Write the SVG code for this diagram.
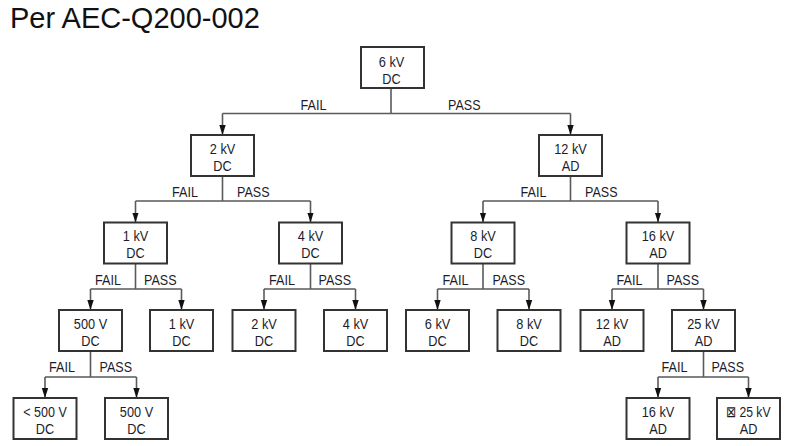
<svg xmlns="http://www.w3.org/2000/svg" width="787" height="446" viewBox="0 0 787 446">
<style>
.bg{fill:#ffffff}
.box{fill:#ffffff;stroke:#333333;stroke-width:2}
.ln{fill:none;stroke:#5a5a5a;stroke-width:1.6}
.t{font-family:"Liberation Sans",Arial,sans-serif;font-size:15px;fill:#1c1c2a;text-anchor:middle}
.lbl{font-family:"Liberation Sans",Arial,sans-serif;font-size:15px;fill:#1c1c2a}
.fail{text-anchor:end}
.pass{text-anchor:start}
.title{font-family:"Liberation Sans",Arial,sans-serif;font-size:29px;fill:#111111}
</style>
<defs>
<marker id="ah" markerUnits="userSpaceOnUse" markerWidth="8" markerHeight="10" viewBox="0 0 8 10" refX="4" refY="10" orient="0">
<path d="M0.8,0 L7.2,0 L4,10 Z" fill="#111111"/>
</marker>
</defs>
<rect class="bg" x="0" y="0" width="787" height="446"/>
<text class="title" x="10" y="28">Per AEC-Q200-002</text>

<g id="connectors">
<path class="ln" d="M391,88 V113.5 M222.5,113.5 H570.5"/>
<path class="ln" marker-end="url(#ah)" d="M222.5,113.5 V135"/>
<path class="ln" marker-end="url(#ah)" d="M570.5,113.5 V135"/>

<path class="ln" d="M222.5,176 V201 M135.5,201 H310.5"/>
<path class="ln" marker-end="url(#ah)" d="M135.5,201 V222.5"/>
<path class="ln" marker-end="url(#ah)" d="M310.5,201 V222.5"/>

<path class="ln" d="M570.5,176 V201 M483,201 H658"/>
<path class="ln" marker-end="url(#ah)" d="M483,201 V222.5"/>
<path class="ln" marker-end="url(#ah)" d="M658,201 V222.5"/>

<path class="ln" d="M135.5,263 V289 M90.5,289 H181.5"/>
<path class="ln" marker-end="url(#ah)" d="M90.5,289 V310"/>
<path class="ln" marker-end="url(#ah)" d="M181.5,289 V310"/>

<path class="ln" d="M310.5,263 V289 M264,289 H355.5"/>
<path class="ln" marker-end="url(#ah)" d="M264,289 V310"/>
<path class="ln" marker-end="url(#ah)" d="M355.5,289 V310"/>

<path class="ln" d="M483,263 V289 M437.5,289 H529"/>
<path class="ln" marker-end="url(#ah)" d="M437.5,289 V310"/>
<path class="ln" marker-end="url(#ah)" d="M529,289 V310"/>

<path class="ln" d="M658,263 V289 M612,289 H703.5"/>
<path class="ln" marker-end="url(#ah)" d="M612,289 V310"/>
<path class="ln" marker-end="url(#ah)" d="M703.5,289 V310"/>

<path class="ln" d="M90.5,351 V377 M45,377 H136.5"/>
<path class="ln" marker-end="url(#ah)" d="M45,377 V398"/>
<path class="ln" marker-end="url(#ah)" d="M136.5,377 V398"/>

<path class="ln" d="M703.5,351 V377 M658,377 H748.5"/>
<path class="ln" marker-end="url(#ah)" d="M658,377 V398"/>
<path class="ln" marker-end="url(#ah)" d="M748.5,377 V398"/>

<text class="lbl fail" x="326.5" y="109.5" textLength="26" lengthAdjust="spacingAndGlyphs">FAIL</text>
<text class="lbl pass" x="448" y="109.5" textLength="32.5" lengthAdjust="spacingAndGlyphs">PASS</text>
<text class="lbl fail" x="198" y="197" textLength="26" lengthAdjust="spacingAndGlyphs">FAIL</text>
<text class="lbl pass" x="237" y="197" textLength="32.5" lengthAdjust="spacingAndGlyphs">PASS</text>
<text class="lbl fail" x="546.5" y="197" textLength="26" lengthAdjust="spacingAndGlyphs">FAIL</text>
<text class="lbl pass" x="585" y="197" textLength="32.5" lengthAdjust="spacingAndGlyphs">PASS</text>
<text class="lbl fail" x="121" y="285" textLength="26" lengthAdjust="spacingAndGlyphs">FAIL</text>
<text class="lbl pass" x="144" y="285" textLength="32.5" lengthAdjust="spacingAndGlyphs">PASS</text>
<text class="lbl fail" x="295" y="285" textLength="26" lengthAdjust="spacingAndGlyphs">FAIL</text>
<text class="lbl pass" x="318.5" y="285" textLength="32.5" lengthAdjust="spacingAndGlyphs">PASS</text>
<text class="lbl fail" x="468.5" y="285" textLength="26" lengthAdjust="spacingAndGlyphs">FAIL</text>
<text class="lbl pass" x="492.5" y="285" textLength="32.5" lengthAdjust="spacingAndGlyphs">PASS</text>
<text class="lbl fail" x="642.5" y="285" textLength="26" lengthAdjust="spacingAndGlyphs">FAIL</text>
<text class="lbl pass" x="666.5" y="285" textLength="32.5" lengthAdjust="spacingAndGlyphs">PASS</text>
<text class="lbl fail" x="75" y="372" textLength="26" lengthAdjust="spacingAndGlyphs">FAIL</text>
<text class="lbl pass" x="99.5" y="372" textLength="32.5" lengthAdjust="spacingAndGlyphs">PASS</text>
<text class="lbl fail" x="687.5" y="372" textLength="26" lengthAdjust="spacingAndGlyphs">FAIL</text>
<text class="lbl pass" x="711.5" y="372" textLength="32.5" lengthAdjust="spacingAndGlyphs">PASS</text>
</g>

<g id="n-root"><rect class="box" x="361" y="47" width="63" height="41"/><text class="t" x="391.5" y="66.5" textLength="25.5" lengthAdjust="spacingAndGlyphs">6 kV</text><text class="t" x="391.5" y="83.5" textLength="18.4" lengthAdjust="spacingAndGlyphs">DC</text></g>

<g id="n-2kv"><rect class="box" x="191" y="135" width="63" height="41"/><text class="t" x="222.5" y="153.5" textLength="25.5" lengthAdjust="spacingAndGlyphs">2 kV</text><text class="t" x="222.5" y="170.5" textLength="18.4" lengthAdjust="spacingAndGlyphs">DC</text></g>
<g id="n-12kv"><rect class="box" x="539" y="135" width="63" height="41"/><text class="t" x="570.5" y="153.5" textLength="32.6" lengthAdjust="spacingAndGlyphs">12 kV</text><text class="t" x="570.5" y="170.5" textLength="17.7" lengthAdjust="spacingAndGlyphs">AD</text></g>

<g id="n-1kv"><rect class="box" x="104" y="222.5" width="63" height="41"/><text class="t" x="135.5" y="241" textLength="25.5" lengthAdjust="spacingAndGlyphs">1 kV</text><text class="t" x="135.5" y="258" textLength="18.4" lengthAdjust="spacingAndGlyphs">DC</text></g>
<g id="n-4kv"><rect class="box" x="279" y="222.5" width="63" height="41"/><text class="t" x="310.5" y="241" textLength="25.5" lengthAdjust="spacingAndGlyphs">4 kV</text><text class="t" x="310.5" y="258" textLength="18.4" lengthAdjust="spacingAndGlyphs">DC</text></g>
<g id="n-8kv"><rect class="box" x="451.5" y="222.5" width="63" height="41"/><text class="t" x="483" y="241" textLength="25.5" lengthAdjust="spacingAndGlyphs">8 kV</text><text class="t" x="483" y="258" textLength="18.4" lengthAdjust="spacingAndGlyphs">DC</text></g>
<g id="n-16kv"><rect class="box" x="626.5" y="222.5" width="63" height="41"/><text class="t" x="658" y="241" textLength="32.6" lengthAdjust="spacingAndGlyphs">16 kV</text><text class="t" x="658" y="258" textLength="17.7" lengthAdjust="spacingAndGlyphs">AD</text></g>

<g id="n-500v"><rect class="box" x="59" y="310" width="63" height="41"/><text class="t" x="90.5" y="328.5" textLength="33.3" lengthAdjust="spacingAndGlyphs">500 V</text><text class="t" x="90.5" y="345.5" textLength="18.4" lengthAdjust="spacingAndGlyphs">DC</text></g>
<g id="n-1kv-leaf"><rect class="box" x="150" y="310" width="63" height="41"/><text class="t" x="181.5" y="328.5" textLength="25.5" lengthAdjust="spacingAndGlyphs">1 kV</text><text class="t" x="181.5" y="345.5" textLength="18.4" lengthAdjust="spacingAndGlyphs">DC</text></g>
<g id="n-2kv-leaf"><rect class="box" x="232.5" y="310" width="63" height="41"/><text class="t" x="264" y="328.5" textLength="25.5" lengthAdjust="spacingAndGlyphs">2 kV</text><text class="t" x="264" y="345.5" textLength="18.4" lengthAdjust="spacingAndGlyphs">DC</text></g>
<g id="n-4kv-leaf"><rect class="box" x="324" y="310" width="63" height="41"/><text class="t" x="355.5" y="328.5" textLength="25.5" lengthAdjust="spacingAndGlyphs">4 kV</text><text class="t" x="355.5" y="345.5" textLength="18.4" lengthAdjust="spacingAndGlyphs">DC</text></g>
<g id="n-6kv-leaf"><rect class="box" x="406" y="310" width="63" height="41"/><text class="t" x="437.5" y="328.5" textLength="25.5" lengthAdjust="spacingAndGlyphs">6 kV</text><text class="t" x="437.5" y="345.5" textLength="18.4" lengthAdjust="spacingAndGlyphs">DC</text></g>
<g id="n-8kv-leaf"><rect class="box" x="497.5" y="310" width="63" height="41"/><text class="t" x="529" y="328.5" textLength="25.5" lengthAdjust="spacingAndGlyphs">8 kV</text><text class="t" x="529" y="345.5" textLength="18.4" lengthAdjust="spacingAndGlyphs">DC</text></g>
<g id="n-12kv-leaf"><rect class="box" x="580.5" y="310" width="63" height="41"/><text class="t" x="612" y="328.5" textLength="32.6" lengthAdjust="spacingAndGlyphs">12 kV</text><text class="t" x="612" y="345.5" textLength="17.7" lengthAdjust="spacingAndGlyphs">AD</text></g>
<g id="n-25kv"><rect class="box" x="672" y="310" width="63" height="41"/><text class="t" x="703.5" y="328.5" textLength="32.6" lengthAdjust="spacingAndGlyphs">25 kV</text><text class="t" x="703.5" y="345.5" textLength="17.7" lengthAdjust="spacingAndGlyphs">AD</text></g>

<g id="n-lt500v"><rect class="box" x="13.5" y="398" width="63" height="41"/><text class="t" x="45" y="416.5" textLength="43.5" lengthAdjust="spacingAndGlyphs">&lt; 500 V</text><text class="t" x="45" y="433.5" textLength="18.4" lengthAdjust="spacingAndGlyphs">DC</text></g>
<g id="n-500v-leaf"><rect class="box" x="105" y="398" width="63" height="41"/><text class="t" x="136.5" y="416.5" textLength="33.3" lengthAdjust="spacingAndGlyphs">500 V</text><text class="t" x="136.5" y="433.5" textLength="18.4" lengthAdjust="spacingAndGlyphs">DC</text></g>
<g id="n-16kv-leaf"><rect class="box" x="626.5" y="398" width="63" height="41"/><text class="t" x="658" y="416.5" textLength="32.6" lengthAdjust="spacingAndGlyphs">16 kV</text><text class="t" x="658" y="433.5" textLength="17.7" lengthAdjust="spacingAndGlyphs">AD</text></g>
<g id="n-ge25kv"><rect class="box" x="717" y="398" width="63" height="41"/><text class="t" x="748" y="416.5" textLength="45" lengthAdjust="spacingAndGlyphs">⊠ 25 kV</text><text class="t" x="748.5" y="433.5" textLength="17.7" lengthAdjust="spacingAndGlyphs">AD</text></g>
</svg>
